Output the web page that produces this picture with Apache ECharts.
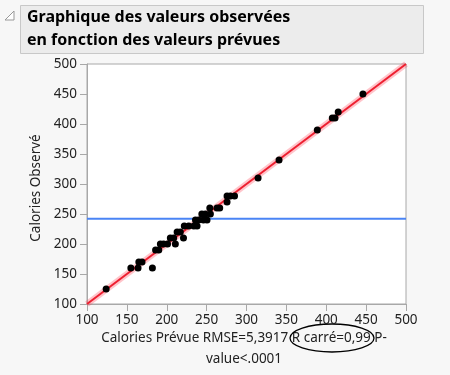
<!DOCTYPE html>
<html>
<head>
<meta charset="utf-8">
<script src="https://cdn.jsdelivr.net/npm/echarts@6/dist/echarts.min.js"></script>
<style>
html,body{margin:0;padding:0;background:#f7f7f7;}
#c{width:450px;height:375px;}
</style>
</head>
<body>
<div id="c"></div>
<script>
// Data
const predicted = [124,155,164,165,169,182,186,190,192,196,201,204.5,208.7,210.8,213,217,221,222,227.5,234,238,236,240,244,248.4,246,250.5,254,254.7,263,266.4,275.6,275.6,279.7,285,314.5,340.8,388.8,407.6,411,415,446];
const observed  = [125,160,160,170,170,160,190,190,200,200,200,210,210,200,220,220,210,230,230,230,230,240,240,250,250,240,240,260,250,260,260,270,280,280,280,310,340,390,410,410,420,450];
const fitX = [100, 500];
const fitY = [100, 500];
const meanObserved = 242;
const xTicks = [100,150,200,250,300,350,400,450,500];
const yTicks = [100,150,200,250,300,350,400,450,500];
const titleLines = ["Graphique des valeurs observées", "en fonction des valeurs prévues"];
const xLabelLines = ["Calories Prévue RMSE=5,3917 R carré=0,99 P-", "value<.0001"];
const yLabel = "Calories Observé";

const chart = echarts.init(document.getElementById('c'));
const font = "'Noto Sans', 'DejaVu Sans', sans-serif";
const pts = predicted.map((v,i)=>[v, observed[i]]);
const fit = fitX.map((v,i)=>[v, fitY[i]]);
const mean = [[xTicks[0], meanObserved],[xTicks[xTicks.length-1], meanObserved]];

chart.setOption({
  backgroundColor: '#f7f7f7',
  animation: false,
  grid: {left: 87, right: 44, top: 64, bottom: 71, show: true, backgroundColor: '#ffffff', borderColor: '#a8a8a8', borderWidth: 1},
  xAxis: {
    type: 'value', min: xTicks[0], max: xTicks[xTicks.length-1], interval: 50,
    axisLine: {lineStyle: {color: '#a8a8a8'}},
    axisTick: {show: true, length: 7, lineStyle: {color: '#a8a8a8'}},
    axisLabel: {color: '#222', fontFamily: font, fontSize: 13.5, margin: 9},
    splitLine: {show: false}
  },
  yAxis: {
    type: 'value', min: yTicks[0], max: yTicks[yTicks.length-1], interval: 50,
    axisLine: {show: true, lineStyle: {color: '#a8a8a8'}},
    axisTick: {show: true, length: 7, lineStyle: {color: '#a8a8a8'}},
    axisLabel: {color: '#222', fontFamily: font, fontSize: 13.5, margin: 10},
    splitLine: {show: false}
  },
  series: [
    {type: 'line', data: fit, symbol: 'none', lineStyle: {color: 'rgba(255,60,80,0.3)', width: 6}, silent: true, z: 1},
    {type: 'line', data: fit, symbol: 'none', lineStyle: {color: '#ee1f30', width: 2}, silent: true, z: 2},
    {type: 'line', data: mean, symbol: 'none', lineStyle: {color: '#4a84f5', width: 2}, silent: true, z: 2},
    {type: 'scatter', data: pts, symbolSize: 7, itemStyle: {color: '#000', opacity: 1}, z: 3}
  ],
  graphic: [
    {type: 'rect', shape: {x: 20.5, y: 5.5, width: 403, height: 48}, style: {fill: '#ececec', stroke: '#c8c8c8', lineWidth: 1}},
    {type: 'polygon', shape: {points: [[14,20],[5,20],[14,11]]}, style: {fill: '#fff', stroke: '#999', lineWidth: 1}},
    {type: 'text', x: 27, y: 6, style: {text: titleLines.join('\n'), font: "bold 16px 'Noto Sans', sans-serif", fill: '#000', lineHeight: 23}},
    {type: 'text', x: 244, y: 331, style: {text: xLabelLines[0], font: "13.5px 'Noto Sans', sans-serif", fill: '#222', textAlign: 'center'}},
    {type: 'text', x: 244, y: 352, style: {text: xLabelLines[1], font: "13.5px 'Noto Sans', sans-serif", fill: '#222', textAlign: 'center'}},
    {type: 'text', x: 36, y: 188, rotation: Math.PI/2, style: {text: yLabel, font: "13.5px 'Noto Sans', sans-serif", fill: '#222', textAlign: 'center', textVerticalAlign: 'middle'}},
    {type: 'ellipse', shape: {cx: 332, cy: 338, rx: 42, ry: 14}, style: {fill: 'none', stroke: '#000', lineWidth: 1.3}}
  ]
});
</script>
</body>
</html>
